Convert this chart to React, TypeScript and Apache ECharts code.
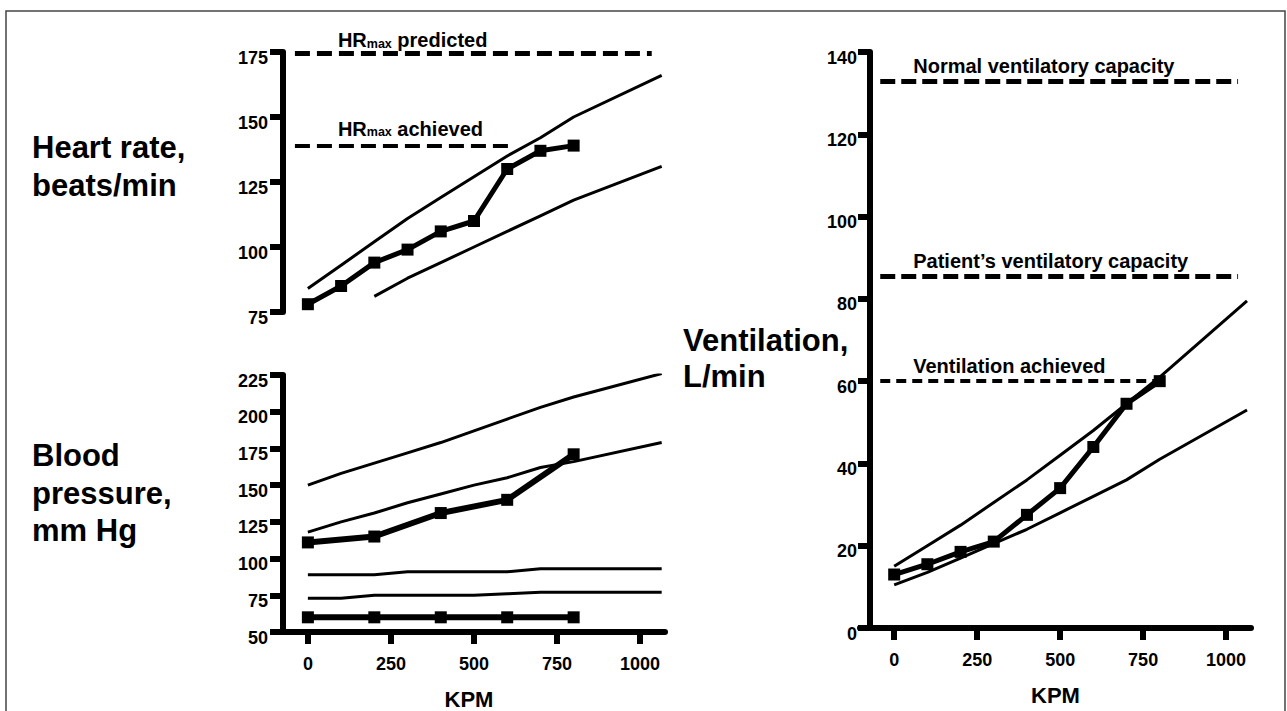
import React, { useEffect, useRef } from "react";
import * as echarts from "echarts";

const FONT = "Liberation Sans, Arial, Helvetica, sans-serif";

// ---- Heart rate panel ----
const hrKpm = [0, 100, 200, 300, 400, 500, 600, 700, 800];
const hrPatient = [78, 85, 94, 99, 106, 110, 130, 137, 139];
const hrUpperX = [0, 100, 200, 300, 400, 500, 600, 700, 800, 1065];
const hrUpperY = [84, 93, 102, 111, 119, 127, 135, 142, 150, 166];
const hrLowerX = [200, 300, 400, 500, 600, 700, 800, 1065];
const hrLowerY = [81, 88, 94, 100, 106, 112, 118, 131];
const hrRefValues = [174.5, 139];
const hrRefEnds = [1035, 613];
const hrRefNames = ["predicted", "achieved"];
const hrRefStart = -39;

// ---- Blood pressure panel ----
const bpKpm = [0, 200, 400, 600, 800];
const sysPatient = [111, 115, 131, 140, 171];
const diaPatient = [60, 60, 60, 60, 60];
const sysNormX = [0, 100, 200, 300, 400, 500, 600, 700, 800, 1065];
const sysUpperY = [150, 158, 165, 172, 179, 187, 195, 203, 210, 226];
const sysLowerY = [118, 125, 131, 138, 144, 150, 155, 162, 166, 179];
const diaUpperX = [0, 200, 300, 600, 700, 1065];
const diaUpperY = [89, 89, 91, 91, 93, 93];
const diaLowerX = [0, 100, 200, 500, 600, 700, 1065];
const diaLowerY = [73, 73, 75, 75, 76, 77, 77];

// ---- Ventilation panel ----
const veKpm = [0, 100, 200, 300, 400, 500, 600, 700, 800];
const vePatient = [13, 15.5, 18.5, 21, 27.5, 34, 44, 54.5, 60];
const veNormX = [0, 100, 200, 300, 400, 500, 600, 700, 800, 1063];
const veUpperY = [15, 20, 25, 30.5, 36, 42, 48, 54.5, 61, 79.5];
const veLowerY = [10.5, 13.5, 17, 20.5, 24, 28, 32, 36, 41, 53];
const veRefValues = [133, 85.5, 60];
const veRefEnds = [1036, 1036, 805];
const veRefLabels = ["Normal ventilatory capacity", "Patient\u2019s ventilatory capacity", "Ventilation achieved"];
const veRefStart = -42;

const xTicks = [0, 250, 500, 750, 1000];

const zip = (xs: number[], ys: number[]) => xs.map((x, i) => [x, ys[i]]);

const mkAxisLine = () => ({ show: true, onZero: false, lineStyle: { color: "#000", width: 6 } });
const mkAxisTick = (len = 13) => ({ show: true, length: len, lineStyle: { color: "#000", width: 6 } });
const mkLabel = () => ({
  show: true,
  color: "#000",
  fontSize: 18,
  fontWeight: "bold",
  fontFamily: FONT,
  formatter: (v: number) => String(v),
});

function normLine(xi: number, data: number[][]) {
  return {
    type: "line",
    xAxisIndex: xi,
    yAxisIndex: xi,
    data,
    symbol: "none",
    showSymbol: false,
    lineStyle: { color: "#000", width: 3 },
    silent: true,
    z: 2,
  };
}

function patientLine(xi: number, data: number[][], extra: any = {}) {
  return {
    type: "line",
    xAxisIndex: xi,
    yAxisIndex: xi,
    data,
    symbol: "rect",
    symbolSize: 12,
    showSymbol: true,
    lineStyle: { color: "#000", width: 5 },
    itemStyle: { color: "#000" },
    silent: true,
    z: 3,
    ...extra,
  };
}

export default function App() {
  const ref = useRef<HTMLDivElement>(null);
  useEffect(() => {
    if (!ref.current) return;
    const chart = echarts.init(ref.current, null, { renderer: "svg" });

    const hrRich = {
      b: { fontSize: 20, fontWeight: "bold", fontFamily: FONT, color: "#000", lineHeight: 24, verticalAlign: "bottom" },
      s: { fontSize: 12.5, fontWeight: "bold", fontFamily: FONT, color: "#000", lineHeight: 12, verticalAlign: "bottom" },
    };

    const hrMark = {
      silent: true,
      symbol: ["none", "none"],
      animation: false,
      lineStyle: { color: "#000", type: [15, 7], width: 5 },
      label: { show: true, position: "insideStartTop", rich: hrRich },
      data: hrRefValues.map((v, i) => [
        {
          coord: [hrRefStart, v],
          lineStyle: { width: i === 0 ? 5 : 4 },
          label: {
            formatter: "{b|HR}{s|max}{b| " + hrRefNames[i] + "}",
            distance: [43, i === 0 ? 3 : 7],
          },
        },
        { coord: [hrRefEnds[i], v] },
      ]),
    };

    const veMark = {
      silent: true,
      symbol: ["none", "none"],
      animation: false,
      lineStyle: { color: "#000", type: [15, 6], width: 5 },
      label: {
        show: true,
        position: "insideStartTop",
        color: "#000",
        fontSize: 20,
        fontWeight: "bold",
        fontFamily: FONT,
      },
      data: veRefValues.map((v, i) => [
        {
          coord: [veRefStart, v],
          lineStyle: i === 2 ? { width: 4, type: [10, 6] } : {},
          label: { formatter: veRefLabels[i], distance: [33, 5] },
        },
        { coord: [veRefEnds[i], v] },
      ]),
    };

    const kpmName = {
      name: "KPM",
      nameLocation: "middle",
      nameGap: 56,
      nameTextStyle: { color: "#000", fontSize: 22, fontWeight: "bold", fontFamily: FONT },
    };

    const option: any = {
      animation: false,
      grid: [
        { left: 273, top: 52, width: 392, height: 260 },
        { left: 273, top: 375, width: 392, height: 257 },
        { left: 860, top: 52, width: 391, height: 580 },
      ],
      xAxis: [
        { gridIndex: 0, type: "value", min: -105, max: 1075, show: false },
        {
          gridIndex: 1,
          type: "value",
          min: -105,
          max: 1075,
          axisLine: mkAxisLine(),
          axisTick: { ...mkAxisTick(12), customValues: xTicks },
          axisLabel: { ...mkLabel(), customValues: xTicks, margin: 23 },
          splitLine: { show: false },
          ...kpmName,
        },
        {
          gridIndex: 2,
          type: "value",
          min: -103,
          max: 1075,
          axisLine: mkAxisLine(),
          axisTick: { ...mkAxisTick(12), customValues: xTicks },
          axisLabel: { ...mkLabel(), customValues: xTicks, margin: 23 },
          splitLine: { show: false },
          ...kpmName,
        },
      ],
      yAxis: [
        {
          gridIndex: 0,
          type: "value",
          min: 75,
          max: 175,
          interval: 25,
          offset: -10,
          axisLine: mkAxisLine(),
          axisTick: mkAxisTick(13),
          axisLabel: { ...mkLabel(), margin: 15, verticalAlign: "top", lineHeight: 11 },
          splitLine: { show: false },
        },
        {
          gridIndex: 1,
          type: "value",
          min: 50,
          max: 225,
          interval: 25,
          offset: -10,
          axisLine: mkAxisLine(),
          axisTick: mkAxisTick(13),
          axisLabel: { ...mkLabel(), margin: 15, verticalAlign: "top", lineHeight: 11 },
          splitLine: { show: false },
        },
        {
          gridIndex: 2,
          type: "value",
          min: 0,
          max: 140,
          interval: 20,
          offset: -10,
          axisLine: mkAxisLine(),
          axisTick: mkAxisTick(12),
          axisLabel: { ...mkLabel(), margin: 13, verticalAlign: "top", lineHeight: 11 },
          splitLine: { show: false },
        },
      ],
      series: [
        normLine(0, zip(hrUpperX, hrUpperY)),
        normLine(0, zip(hrLowerX, hrLowerY)),
        patientLine(0, zip(hrKpm, hrPatient), { markLine: hrMark }),
        normLine(1, zip(sysNormX, sysUpperY)),
        normLine(1, zip(sysNormX, sysLowerY)),
        normLine(1, zip(diaUpperX, diaUpperY)),
        normLine(1, zip(diaLowerX, diaLowerY)),
        patientLine(1, zip(bpKpm, sysPatient), { lineStyle: { color: "#000", width: 6 } }),
        patientLine(1, zip(bpKpm, diaPatient), { lineStyle: { color: "#000", width: 6 } }),
        normLine(2, zip(veNormX, veUpperY)),
        normLine(2, zip(veNormX, veLowerY)),
        patientLine(2, zip(veKpm, vePatient), { markLine: veMark }),
      ],
      graphic: [
        {
          type: "rect",
          silent: true,
          shape: { x: 6, y: 11, width: 1279, height: 720 },
          style: { fill: "none", stroke: "#444", lineWidth: 1.5 },
        },
        {
          type: "text",
          x: 32,
          y: 128,
          silent: true,
          style: {
            text: "Heart rate,\nbeats/min",
            fontSize: 31,
            fontWeight: "bold",
            fontFamily: FONT,
            lineHeight: 38,
            fill: "#000",
            verticalAlign: "top",
          },
        },
        {
          type: "text",
          x: 32,
          y: 437,
          silent: true,
          style: {
            text: "Blood\npressure,\nmm Hg",
            fontSize: 31,
            fontWeight: "bold",
            fontFamily: FONT,
            lineHeight: 37.5,
            fill: "#000",
            verticalAlign: "top",
          },
        },
        {
          type: "text",
          x: 683,
          y: 322,
          silent: true,
          style: {
            text: "Ventilation,\nL/min",
            fontSize: 31,
            fontWeight: "bold",
            fontFamily: FONT,
            lineHeight: 36.5,
            fill: "#000",
            verticalAlign: "top",
          },
        },
      ],
    };

    chart.setOption(option);
    return () => chart.dispose();
  }, []);

  return (
    <div
      ref={ref}
      style={{ position: "absolute", left: 0, top: 0, width: 1287, height: 711, background: "#fff" }}
    />
  );
}
